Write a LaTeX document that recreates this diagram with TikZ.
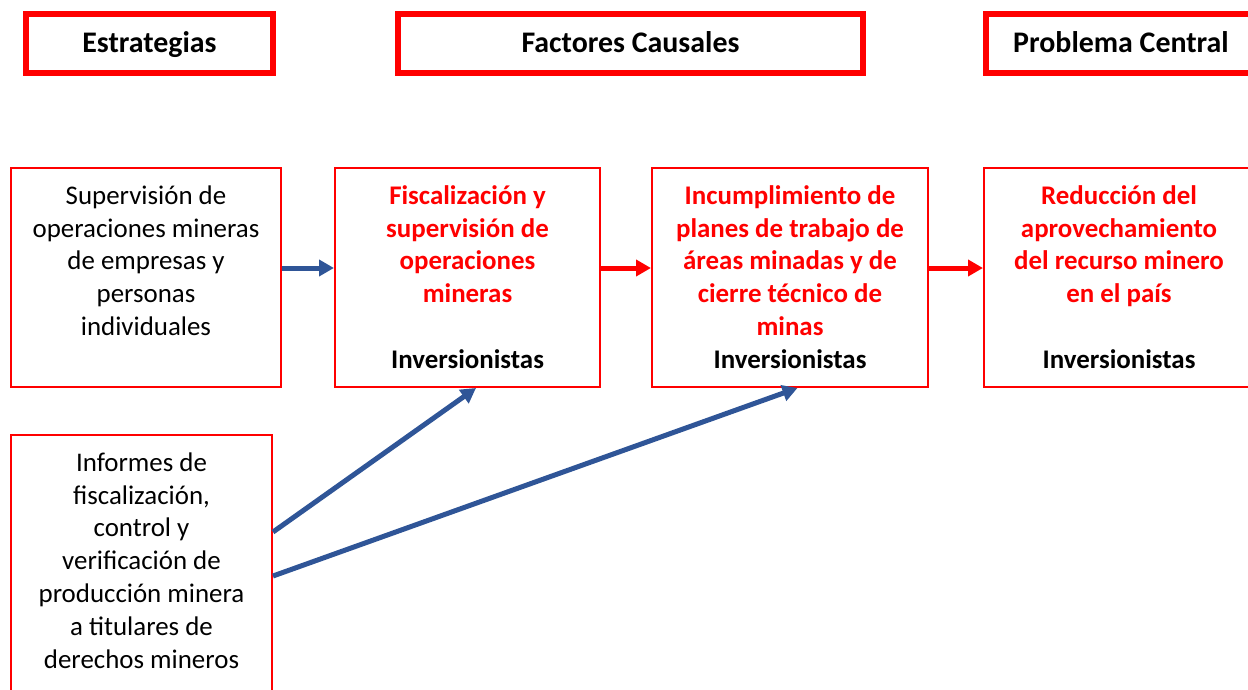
\documentclass[tikz,border=0pt]{standalone}
\usepackage{fontspec}
\setmainfont{Carlito}
\usetikzlibrary{arrows.meta,calc}
\definecolor{mred}{RGB}{255,0,0}
\definecolor{mblue}{RGB}{47,85,151}
\newcommand{\fl}{\rule{0pt}{24bp}}
\begin{document}
\begin{tikzpicture}[x=1bp,y=-1bp,
  hbox/.style={draw=mred,line width=6bp,inner sep=0pt,minimum height=59bp,text height=25bp,text depth=6bp,font=\fontsize{30}{36}\selectfont\bfseries},
  mbox/.style={draw=mred,line width=2bp,inner sep=0pt,minimum height=219bp},
  txt/.style={anchor=north,inner sep=0pt,align=center,font=\fontsize{27}{33}\selectfont},
  rtxt/.style={txt,font=\fontsize{27}{33}\selectfont\bfseries,text=mred},
  barrow/.style={draw=mblue,line width=5bp,-{Triangle[length=15bp,width=16bp]}},
  rarrow/.style={draw=mred,line width=5bp,-{Triangle[length=15bp,width=16bp]}}]
\useasboundingbox (0,0) rectangle (1248,690);
\clip (0,0) rectangle (1248,690);
% headers
\node[hbox,minimum width=247bp] (h1) at (149.5,43.5) {Estrategias};
\node[hbox,minimum width=465bp] (h2) at (630.5,43.5) {Factores Causales};
\node[hbox,minimum width=270bp] (h3) at (1121,43.5) {Problema Central};
% main boxes
\node[mbox,minimum width=270bp] (b1) at (146,277.5) {};
\node[mbox,minimum width=265bp] (b2) at (467.5,277.5) {};
\node[mbox,minimum width=276bp] (b3) at (790,277.5) {};
\node[mbox,minimum width=270bp] (b4) at (1119,277.5) {};
\node[mbox,minimum width=261bp,minimum height=290bp] (b5) at (141.5,580) {};
% texts
\node[txt] (t1) at ([yshift=-13bp]b1.north) {\fl Supervisión de\\operaciones mineras\\de empresas y\\personas\\individuales};
\node[rtxt] (t2) at ([yshift=-13bp]b2.north) {\fl Fiscalización y\\supervisión de\\operaciones\\mineras\\\strut\\\textcolor{black}{Inversionistas}};
\node[rtxt] (t3) at ([yshift=-13bp]b3.north) {\fl Incumplimiento de\\planes de trabajo de\\áreas minadas y de\\cierre técnico de\\minas\\\textcolor{black}{Inversionistas}};
\node[rtxt] (t4) at ([yshift=-13bp]b4.north) {\fl Reducción del\\aprovechamiento\\del recurso minero\\en el país\\\strut\\\textcolor{black}{Inversionistas}};
\node[txt] (t5) at ([yshift=-13bp]b5.north) {\fl Informes de\\fiscalización,\\control y\\verificación de\\producción minera\\a titulares de\\derechos mineros};
% arrows
\draw[barrow] ([yshift=9.5bp]b1.east) -- ([yshift=9.5bp]b2.west);
\draw[rarrow] ([yshift=9.5bp]b2.east) -- ([yshift=9.5bp]b3.west);
\draw[rarrow] ([yshift=9.5bp]b3.east) -- ([yshift=9.5bp]b4.west);
\draw[barrow] ([yshift=-98bp]b5.north east) -- ([xshift=8.5bp]b2.south);
\draw[barrow] ([yshift=-142bp]b5.north east) -- ([xshift=7.5bp]b3.south);
\end{tikzpicture}
\end{document}
